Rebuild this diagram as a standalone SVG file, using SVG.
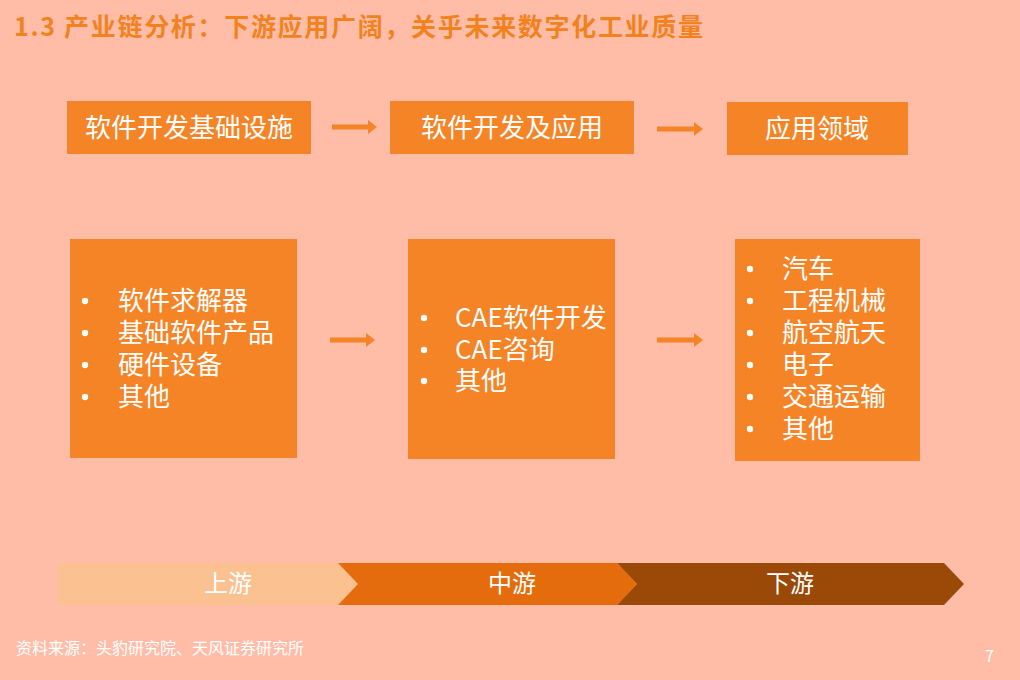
<svg xmlns="http://www.w3.org/2000/svg" width="1020" height="680" viewBox="0 0 1020 680">
<defs>
<style>
.bg{fill:#FFBDA8}
.box{fill:#F58426}
.t{font-family:"Noto Sans CJK SC","Liberation Sans",sans-serif;fill:#FFFFFF}
.hd{font-size:26px}
.li{font-size:26px}
.ch{font-size:24px}
.title{font-family:"Noto Sans CJK SC","Liberation Sans",sans-serif;font-size:25px;font-weight:bold;fill:#F2821E}
.ft{font-size:16px}
.arr{stroke:#F58426;stroke-width:5;fill:none}
.ah{fill:#F58426}
</style>
</defs>
<rect class="bg" x="0" y="0" width="1020" height="680"/>
<text class="title" x="14" y="36" textLength="689" lengthAdjust="spacing">1.3 产业链分析：下游应用广阔，关乎未来数字化工业质量</text>

<g id="top1"><rect class="box" x="67" y="101" width="244" height="53"/><text class="t hd" x="189" y="137" text-anchor="middle">软件开发基础设施</text></g>
<g id="top2"><rect class="box" x="390" y="101" width="244" height="53"/><text class="t hd" x="512" y="137" text-anchor="middle">软件开发及应用</text></g>
<g id="top3"><rect class="box" x="727" y="102" width="181" height="53"/><text class="t hd" x="817" y="138" text-anchor="middle">应用领域</text></g>

<g id="up"><rect class="box" x="70" y="239" width="227" height="219"/>
<text class="t li" x="118" y="310">软件求解器</text>
<text class="t li" x="118" y="342">基础软件产品</text>
<text class="t li" x="118" y="374">硬件设备</text>
<text class="t li" x="118" y="406">其他</text>
<circle cx="85" cy="301" r="3.2" fill="#fff"/><circle cx="85" cy="333" r="3.2" fill="#fff"/><circle cx="85" cy="365" r="3.2" fill="#fff"/><circle cx="85" cy="397" r="3.2" fill="#fff"/>
</g>
<g id="mid"><rect class="box" x="408" y="239" width="207" height="220"/>
<text class="t li" x="455" y="327">CAE软件开发</text>
<text class="t li" x="455" y="359">CAE咨询</text>
<text class="t li" x="455" y="390">其他</text>
<circle cx="424" cy="318" r="3.2" fill="#fff"/><circle cx="424" cy="350" r="3.2" fill="#fff"/><circle cx="424" cy="381" r="3.2" fill="#fff"/>
</g>
<g id="down"><rect class="box" x="735" y="239" width="185" height="222"/>
<text class="t li" x="782" y="278">汽车</text>
<text class="t li" x="782" y="310">工程机械</text>
<text class="t li" x="782" y="342">航空航天</text>
<text class="t li" x="782" y="374">电子</text>
<text class="t li" x="782" y="406">交通运输</text>
<text class="t li" x="782" y="438">其他</text>
<circle cx="750" cy="269" r="3.2" fill="#fff"/><circle cx="750" cy="301" r="3.2" fill="#fff"/><circle cx="750" cy="333" r="3.2" fill="#fff"/><circle cx="750" cy="365" r="3.2" fill="#fff"/><circle cx="750" cy="397" r="3.2" fill="#fff"/><circle cx="750" cy="429" r="3.2" fill="#fff"/>
</g>

<g id="connectors">
<line class="arr" x1="332" y1="127" x2="370" y2="127"/><polygon class="ah" points="368,120 377,127 368,134"/>
<line class="arr" x1="657" y1="129" x2="696" y2="129"/><polygon class="ah" points="694,122 703,129 694,136"/>
<line class="arr" x1="330" y1="340" x2="368" y2="340"/><polygon class="ah" points="366,333 375,340 366,347"/>
<line class="arr" x1="657" y1="340" x2="696" y2="340"/><polygon class="ah" points="694,333 703,340 694,347"/>
</g>

<g id="stages">
<polygon fill="#FBC190" points="58,563 338,563 358,584 338,605 58,605"/>
<polygon fill="#E56C0C" points="338,563 617,563 637,584 617,605 338,605 358,584"/>
<polygon fill="#9A4906" points="617,563 944,563 964,584 944,605 617,605 637,584"/>
<text class="t ch" x="228" y="592" text-anchor="middle">上游</text>
<text class="t ch" x="512" y="592" text-anchor="middle">中游</text>
<text class="t ch" x="790" y="592" text-anchor="middle">下游</text>
</g>

<text class="t ft" x="16" y="654">资料来源：头豹研究院、天风证券研究所</text>
<text class="t ft" x="985" y="662">7</text>
</svg>
